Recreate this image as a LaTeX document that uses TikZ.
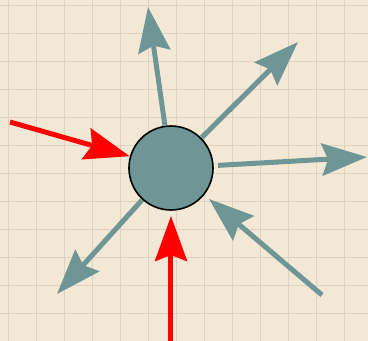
\documentclass[tikz,border=0pt]{standalone}
\usetikzlibrary{arrows.meta}
\definecolor{cpaper}{HTML}{F3E7D5}
\definecolor{cgrid}{HTML}{E0D2C0}
\definecolor{cteal}{HTML}{6E9696}
\definecolor{cred}{HTML}{FF0000}
\tikzset{
  body/.style={circle, draw=black, fill=cteal, line width=1.6pt, minimum size=84pt, inner sep=0pt, outer sep=1pt},
  force/.style={-{Stealth[length=45pt, width=32pt, inset=6pt]}, draw=#1, line width=5pt},
  force/.default=cteal,
}
\begin{document}
\begin{tikzpicture}[x=1pt, y=-1pt]
  % paper
  \fill[cpaper] (0,0) rectangle (368,341);
  \useasboundingbox (0,0) rectangle (368,341);
  \foreach \gx in {8,36,...,368} \draw[cgrid, line width=0.6pt] (\gx,0) -- (\gx,341);
  \foreach \gy in {5,33,...,341} \draw[cgrid, line width=0.6pt] (0,\gy) -- (368,\gy);
  % the body
  \node[body] (ball) at (171,168) {};
  % free ends
  \coordinate (up) at (148,7);
  \coordinate (ur) at (298,42);
  \coordinate (rt) at (367,157);
  \coordinate (ll) at (57,294);
  \coordinate (lrtail) at (322,295);
  \coordinate (lrtip) at (209,199);
  \coordinate (lftail) at (10,122);
  \coordinate (bttail) at (171,341);
  % outgoing
  \draw[force] (ball) -- (up);
  \draw[force] (ball) -- (ur);
  \draw[force, shorten <=4pt] (ball) -- (rt);
  \draw[force] (ball) -- (ll);
  % incoming
  \draw[force] (lrtail) -- (lrtip);
  \draw[force=cred] (lftail) -- (ball);
  \draw[force=cred, shorten >=5pt] (bttail) -- (ball);
\end{tikzpicture}
\end{document}
